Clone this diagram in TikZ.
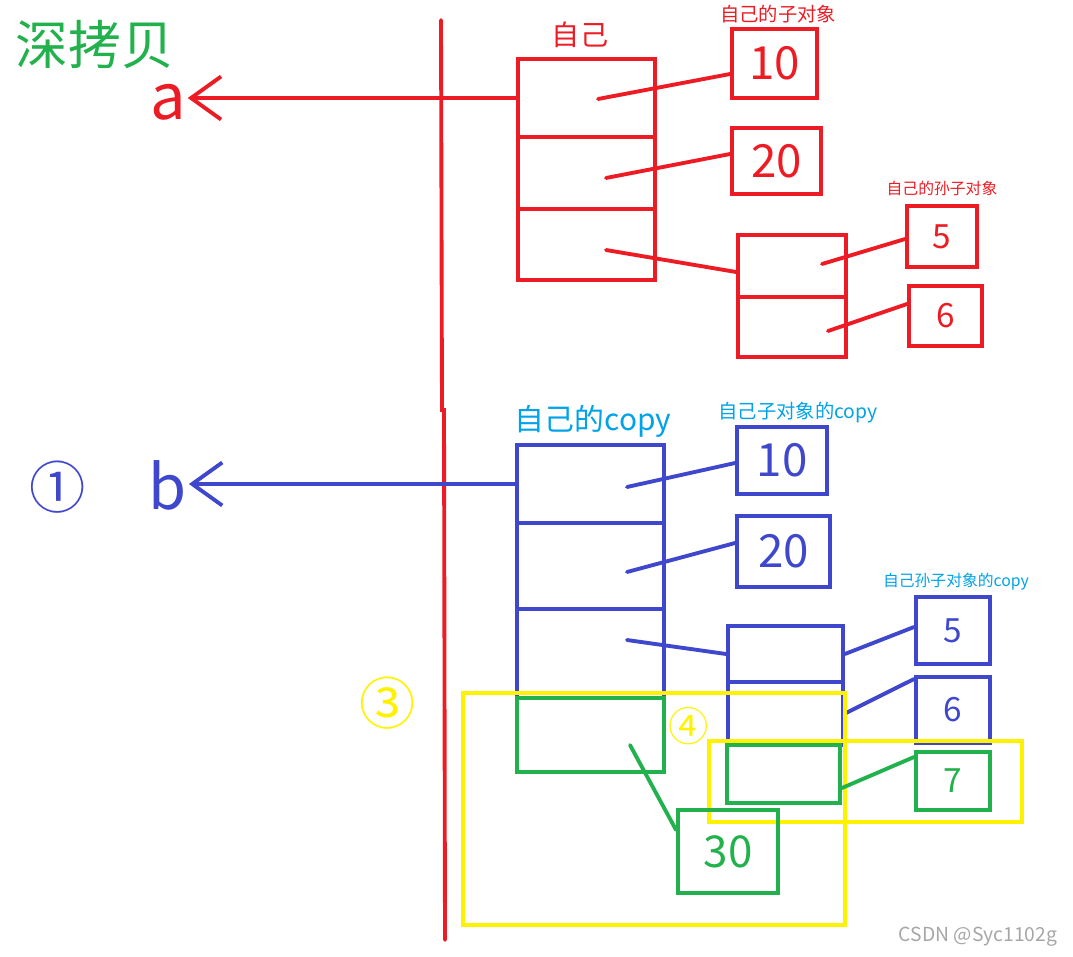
\documentclass[tikz,border=0pt]{standalone}
\usepackage{fontspec}
\setmainfont{Noto Sans CJK SC}
\usetikzlibrary{arrows.meta}
\definecolor{objred}{HTML}{ED1C24}
\definecolor{objblue}{HTML}{3F48CC}
\definecolor{objgreen}{HTML}{22B14C}
\definecolor{objyellow}{HTML}{FFF200}
\definecolor{copyblue}{HTML}{00A2E8}
\newcommand{\fsz}[1]{\fontsize{#1}{#1}\selectfont}
\begin{document}
\begin{tikzpicture}[x=0.02cm,y=-0.02cm,line width=2.2pt,line cap=round,
  cell/.style 2 args={draw,inner sep=0pt,minimum width=#1*0.02cm,minimum height=#2*0.02cm},
  lbl/.style={inner sep=0pt},
  barb/.style={-{Straight Barb[length=0.6cm,width=0.86cm]}}]
\useasboundingbox (0,0) rectangle (1073,957);

% title
\node[lbl,text=objgreen,font=\fsz{30}] (title) at (95,44) {深拷贝};

% the line between names and objects
\draw[objred] (441,20) -- (442,410) -- (444,410) -- (445,940);

% original object a
\node[lbl,text=objred,font=\fsz{16}] (selfl) at (580,35) {自己};
\node[cell={137}{78},draw=objred] (s1) at (586.5,98) {};
\node[cell={137}{72},draw=objred] (s2) at (586.5,173) {};
\node[cell={137}{71},draw=objred] (s3) at (586.5,244.5) {};
\node[lbl,text=objred,font=\fsz{36}] (a) at (168,102) {a};
\draw[objred,barb] (s1.west) -- (a.east |- s1.west);

\node[lbl,text=objred,font=\fsz{11}] (kidl) at (778,14) {自己的子对象};
\node[cell={85}{69},draw=objred,text=objred,font=\fsz{26}] (r10) at (774.5,63.5) {10};
\node[cell={89}{66},draw=objred,text=objred,font=\fsz{26}] (r20) at (776.5,161) {20};
\coordinate (p1) at (598,99);
\coordinate (p2) at (606,178);
\coordinate (p3) at (606,250);
\draw[objred] (p1) -- (r10.west |- 0,74);
\draw[objred] (p2) -- (r20.west |- 0,154);

\node[cell={108}{62},draw=objred] (g1) at (792,266) {};
\node[cell={108}{60},draw=objred] (g2) at (792,327) {};
\draw[objred] (p3) -- (g1.west |- 0,272);
\node[lbl,text=objred,font=\fsz{9}] (gkl) at (942,188) {自己的孙子对象};
\node[cell={70}{61},draw=objred,text=objred,font=\fsz{19}] (r5) at (942,236.5) {5};
\node[cell={73}{60},draw=objred,text=objred,font=\fsz{19}] (r6) at (945.5,316) {6};
\coordinate (p4) at (822,264);
\coordinate (p5) at (828,331);
\draw[objred] (p4) -- (r5.west |- 0,239);
\draw[objred] (p5) -- (r6.west |- 0,304);

% copied object b
\node[lbl,text=objblue,font=\fsz{32}] (one) at (58,487) {①};
\node[lbl,text=copyblue,font=\fsz{17}] (copyl) at (593,421) {自己的copy};
\node[cell={147}{78},draw=objblue] (c1) at (590.5,484) {};
\node[cell={147}{86},draw=objblue] (c2) at (590.5,566) {};
\node[cell={147}{89},draw=objblue] (c3) at (590.5,653.5) {};
\node[lbl,text=objblue,font=\fsz{35}] (b) at (168,485) {b};
\draw[objblue,barb] (c1.west) -- (b.east |- c1.west);

\node[lbl,text=copyblue,font=\fsz{11}] (kidcl) at (798,413) {自己子对象的copy};
\node[cell={90}{67},draw=objblue,text=objblue,font=\fsz{26}] (b10) at (782,460.5) {10};
\node[cell={93}{71},draw=objblue,text=objblue,font=\fsz{26}] (b20) at (783.5,551.5) {20};
\coordinate (q1) at (627,487);
\coordinate (q2) at (627,572);
\coordinate (q3) at (627,640);
\draw[objblue] (q1) -- (b10.west |- 0,463);
\draw[objblue] (q2) -- (b20.west |- 0,543);

\node[cell={115}{56},draw=objblue] (d1) at (785.5,654) {};
\node[cell={115}{63},draw=objblue] (d2) at (785.5,713.5) {};
\draw[objblue] (q3) -- (d1.west);
\node[lbl,text=copyblue,font=\fsz{9}] (gkcl) at (956,582) {自己孙子对象的copy};
\node[cell={74}{67},draw=objblue,text=objblue,font=\fsz{19}] (b5) at (953,630.5) {5};
\node[cell={74}{66},draw=objblue,text=objblue,font=\fsz{19}] (b6) at (953,710) {6};
\draw[objblue] (d1.east) -- (b5.west |- 0,627);
\draw[objblue] (d2.east) -- (b6.west |- 0,679);

% changed parts
\node[lbl,text=objyellow,font=\fsz{32}] (three) at (388,703) {③};
\node[lbl,text=objyellow,font=\fsz{23}] (four) at (689,726) {④};
\draw[objyellow,line width=2.8pt,line cap=butt] (463,693) rectangle (845,925);
\draw[objyellow,line width=2.8pt,line cap=butt] (709,741) rectangle (1022,822);

\node[cell={147}{74},draw=objgreen] (c4) at (590.5,735) {};
\node[cell={113}{58},draw=objgreen] (d3) at (783.5,774) {};
\node[cell={100}{83},draw=objgreen,text=objgreen,font=\fsz{25}] (g30) at (728,851.5) {30};
\node[cell={74}{58},draw=objgreen,text=objgreen,font=\fsz{19}] (n7) at (953,781) {7};
\coordinate (q4) at (630,745);
\draw[objgreen] (q4) -- (g30.west |- 0,830);
\draw[objgreen] (d3.east |- 0,788) -- (n7.west |- 0,757);

\node[lbl,text=gray!70,font=\fsz{11}] (wm) at (978,937) {CSDN @Syc1102g};
\end{tikzpicture}
\end{document}
